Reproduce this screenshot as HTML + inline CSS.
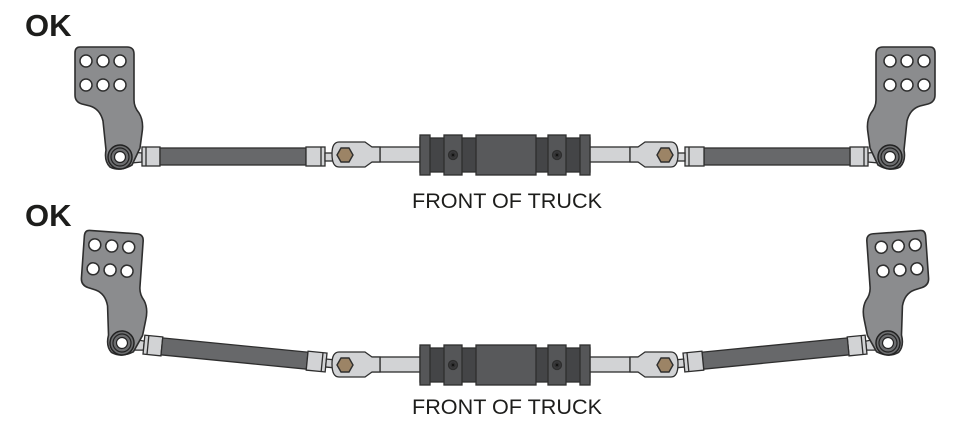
<!DOCTYPE html>
<html><head><meta charset="utf-8"><style>
html,body{margin:0;padding:0;background:#fff;}
svg{display:block;}
</style></head><body>
<svg width="972" height="431" viewBox="0 0 972 431" xmlns="http://www.w3.org/2000/svg">
<defs>
  <!-- arm with eye at origin -->
  <g id="arm">
    <g transform="translate(-120,-157)">
      <path d="M80,47 L127,47 Q134,47 134,54 L134,100 Q134,107 139,113 Q144,121 142,133 L140,148 L132,165 Q120,172 110,167 Q104,161 106,150 L103,121 Q100,109 90,106 L82,104 Q75,102 75,95 L75,53 Q75,47 80,47 Z" fill="#8b8c8e" stroke="#2e2e2e" stroke-width="1.6"/>
      <g fill="#fff" stroke="#2e2e2e" stroke-width="1.5">
        <circle cx="86" cy="61" r="6"/><circle cx="103" cy="61" r="6"/><circle cx="120" cy="61" r="6"/>
        <circle cx="86" cy="85" r="6"/><circle cx="103" cy="85" r="6"/><circle cx="120" cy="85" r="6"/>
      </g>
    </g>
    <circle cx="0" cy="0" r="12" fill="#6c6d6f" stroke="#222" stroke-width="1.5"/>
    <circle cx="0" cy="0" r="9" fill="none" stroke="#222" stroke-width="1.2"/>
    <circle cx="0" cy="0" r="5.5" fill="#fff" stroke="#222" stroke-width="1.2"/>
  </g>
  <!-- rod: eye at origin, along +x -->
  <g id="rod" stroke="#2e2e2e" stroke-width="1.3">
    <path d="M11,-5 L22,-4 L22,5 L11,6 Z" fill="#d2d3d5"/>
    <rect x="22" y="-10" width="18" height="19" fill="#d2d3d5"/>
    <line x1="26" y1="-10" x2="26" y2="9"/>
    <rect x="40" y="-9" width="146" height="17" fill="#67686a"/>
    <rect x="186" y="-10" width="19" height="19" fill="#d2d3d5"/>
    <line x1="201" y1="-10" x2="201" y2="9"/>
    <rect x="205" y="-4" width="9" height="8" fill="#d2d3d5"/>
  </g>
  <!-- rod end + shaft, nut at origin -->
  <g id="rodend" stroke="#2e2e2e" stroke-width="1.3">
    <rect x="25" y="-8" width="56" height="15" fill="#d2d3d5"/>
    <line x1="35" y1="-8" x2="35" y2="7"/>
    <path d="M-6,-13 L20,-13 L27,-8 L35,-8 L35,7 L27,7 L20,12 L-6,12 Q-13,12 -13,-1 Q-13,-13 -6,-13 Z" fill="#d2d3d5"/>
    <polygon points="-8,0 -4,-7 4,-7 8,0 4,7 -4,7" fill="#9c8466" stroke="#2e2e2e" stroke-width="1.4"/>
  </g>
  <g id="sleeve" stroke="#2e2e2e" stroke-width="1.3">
    <rect x="0" y="-17" width="170" height="34" fill="#444547"/>
    <rect x="0" y="-20" width="10" height="40" fill="#555658"/>
    <rect x="24" y="-20" width="18" height="40" fill="#555658"/>
    <rect x="56" y="-20" width="60" height="40" fill="#58595b"/>
    <rect x="128" y="-20" width="18" height="40" fill="#555658"/>
    <rect x="160" y="-20" width="10" height="40" fill="#555658"/>
    <circle cx="33" cy="0" r="4.5" fill="#3a3a3c"/><circle cx="33" cy="0" r="1.8" fill="#111"/>
    <circle cx="137" cy="0" r="4.5" fill="#3a3a3c"/><circle cx="137" cy="0" r="1.8" fill="#111"/>
  </g>
  <g id="topHalf">
    <use href="#rod" transform="translate(120,157)"/>
    <use href="#arm" transform="translate(120,157)"/>
    <use href="#rodend" transform="translate(345,155)"/>
  </g>
  <g id="botHalf">
    <use href="#rod" transform="translate(122,343) rotate(5.6)"/>
    <use href="#arm" transform="translate(122,343) rotate(4)"/>
    <use href="#rodend" transform="translate(345,365)"/>
  </g>
</defs>

<text x="25" y="36" font-family="Liberation Sans, sans-serif" font-weight="bold" font-size="31" fill="#1d1d1b">OK</text>
<text x="25" y="226" font-family="Liberation Sans, sans-serif" font-weight="bold" font-size="31" fill="#1d1d1b">OK</text>

<use href="#topHalf"/>
<use href="#topHalf" transform="translate(1010,0) scale(-1,1)"/>
<use href="#sleeve" transform="translate(420,155)"/>
<text x="507" y="208" text-anchor="middle" font-family="Liberation Sans, sans-serif" font-size="21" fill="#1d1d1b" textLength="190" lengthAdjust="spacingAndGlyphs">FRONT OF TRUCK</text>

<use href="#botHalf"/>
<use href="#botHalf" transform="translate(1010,0) scale(-1,1)"/>
<use href="#sleeve" transform="translate(420,365)"/>
<text x="507" y="414" text-anchor="middle" font-family="Liberation Sans, sans-serif" font-size="21" fill="#1d1d1b" textLength="190" lengthAdjust="spacingAndGlyphs">FRONT OF TRUCK</text>
</svg>
</body></html>
